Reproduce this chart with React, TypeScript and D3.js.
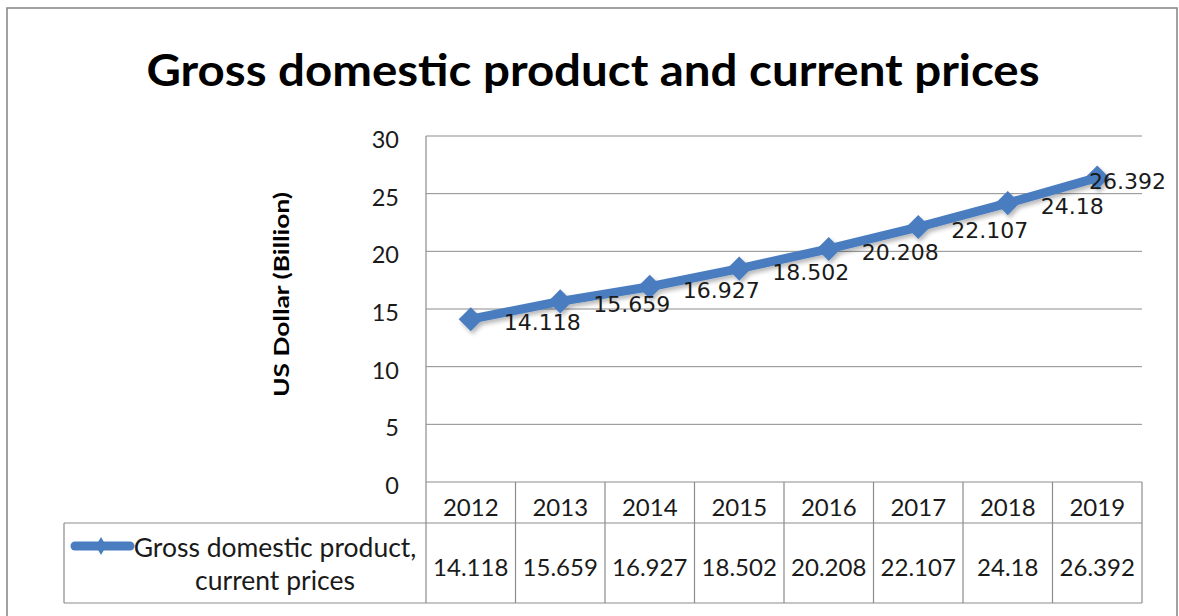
import React from "react";
import * as d3 from "d3";

const years = ["2012", "2013", "2014", "2015", "2016", "2017", "2018", "2019"];
const gdp = [14.118, 15.659, 16.927, 18.502, 20.208, 22.107, 24.18, 26.392];
const yTicks = [0, 5, 10, 15, 20, 25, 30];
const titleText = "Gross domestic product and current prices";
const yAxisTitle = "US Dollar (Billion)";
const seriesNameLines = ["Gross domestic product,", "current prices"];

const W = 1179;
const H = 616;
const BLUE = "#4A7DC0";
const GRID = "#8c8c8c";
const TEXT = "#1a1a1a";
const FONT = "Lato, 'Open Sans', sans-serif";
const LABEL_FONT = "'DejaVu Sans', Verdana, sans-serif";

export default function App() {
  const plotLeft = 426;
  const plotRight = 1142;
  const plotTop = 136;
  const plotBottom = 482;
  const headerBottom = 523;
  const tableBottom = 603;
  const legendLeft = 64;

  const x = d3.scaleBand<string>().domain(years).range([plotLeft, plotRight]).padding(0);
  const bw = x.bandwidth();
  const y = d3.scaleLinear().domain([0, 30]).range([plotBottom, plotTop]);
  const cx = (i: number) => (x(years[i]) as number) + bw / 2;

  const line = d3
    .line<number>()
    .x((_, i) => cx(i))
    .y((d) => y(d));

  const markerPath = d3.symbol().type(d3.symbolSquare).size(290)() as string;
  const legendMarker = d3.symbol().type(d3.symbolDiamond).size(95)() as string;

  return (
    <svg
      width={W}
      height={H}
      style={{ position: "absolute", left: 0, top: 0, background: "#fff" }}
    >
      <defs>
        <filter id="shadow" x="-20%" y="-20%" width="140%" height="160%">
          <feDropShadow dx="2" dy="3" stdDeviation="2" floodColor="#000" floodOpacity="0.28" />
        </filter>
      </defs>
      <rect x={0} y={0} width={W} height={H} fill="#fff" />
      {/* outer border */}
      <rect x={7} y={8} width={1170} height={640} fill="none" stroke="#8a8a8a" strokeWidth={1.6} />

      {/* title */}
      <text
        x={593}
        y={86}
        textAnchor="middle"
        fontFamily={FONT}
        fontWeight="bold"
        fontSize={44}
        fill="#000"
        textLength={893}
        lengthAdjust="spacingAndGlyphs"
      >
        {titleText}
      </text>

      {/* gridlines */}
      {yTicks.map((t) => (
        <line key={"g" + t} x1={plotLeft} x2={plotRight} y1={y(t)} y2={y(t)} stroke={GRID} strokeWidth={1} />
      ))}
      {/* y axis line */}
      <line x1={plotLeft} x2={plotLeft} y1={plotTop} y2={tableBottom} stroke={GRID} strokeWidth={1.2} />

      {/* y tick labels */}
      {yTicks.map((t) => (
        <text key={"t" + t} x={399} y={y(t) + 12} textAnchor="end" fontFamily={FONT} fontSize={23.5} fill={TEXT}>
          {t}
        </text>
      ))}

      {/* y axis title */}
      <text
        transform={`translate(289,294.5) rotate(-90)`}
        textAnchor="middle"
        fontFamily={FONT}
        fontWeight="bold"
        fontSize={20}
        fill="#000"
        textLength={205}
        lengthAdjust="spacingAndGlyphs"
      >
        {yAxisTitle}
      </text>

      {/* data table */}
      <line x1={legendLeft} x2={plotRight} y1={headerBottom} y2={headerBottom} stroke={GRID} strokeWidth={1.2} />
      <line x1={legendLeft} x2={plotRight} y1={tableBottom} y2={tableBottom} stroke={GRID} strokeWidth={1.2} />
      <line x1={legendLeft} x2={legendLeft} y1={headerBottom} y2={tableBottom} stroke={GRID} strokeWidth={1.2} />
      {years.map((yr) => (
        <line
          key={"c" + yr}
          x1={(x(yr) as number) + bw}
          x2={(x(yr) as number) + bw}
          y1={plotBottom}
          y2={tableBottom}
          stroke={GRID}
          strokeWidth={1.2}
        />
      ))}
      {years.map((yr, i) => (
        <text key={"h" + yr} x={cx(i)} y={516} textAnchor="middle" fontFamily={FONT} fontSize={24} fill={TEXT}>
          {yr}
        </text>
      ))}
      {gdp.map((v, i) => (
        <text key={"v" + i} x={cx(i)} y={576} textAnchor="middle" fontFamily={FONT} fontSize={24} fill={TEXT}>
          {v}
        </text>
      ))}

      {/* legend in table */}
      <line x1={75} x2={130} y1={546} y2={546} stroke={BLUE} strokeWidth={9} strokeLinecap="round" />
      <path d={legendMarker} transform="translate(101,546)" fill={BLUE} />
      {seriesNameLines.map((s, i) => (
        <text key={"l" + i} x={275} y={557 + i * 33} textAnchor="middle" fontFamily={FONT} fontSize={26.5} fill={TEXT}>
          {s}
        </text>
      ))}

      {/* series */}
      <g filter="url(#shadow)">
        <path d={line(gdp) as string} fill="none" stroke={BLUE} strokeWidth={9} strokeLinejoin="round" />
        {gdp.map((v, i) => (
          <path key={"m" + i} d={markerPath} transform={`translate(${cx(i)},${y(v)}) rotate(45)`} fill={BLUE} />
        ))}
      </g>

      {/* data labels */}
      {gdp.map((v, i) => {
        const left = cx(i) + 33;
        const overflow = left + 77 > 1166;
        return (
          <text
            key={"dl" + i}
            x={overflow ? 1166 : left}
            y={y(v) + 11}
            textAnchor={overflow ? "end" : "start"}
            fontFamily={LABEL_FONT}
            fontSize={22}
            fill={TEXT}
          >
            {v}
          </text>
        );
      })}
    </svg>
  );
}
